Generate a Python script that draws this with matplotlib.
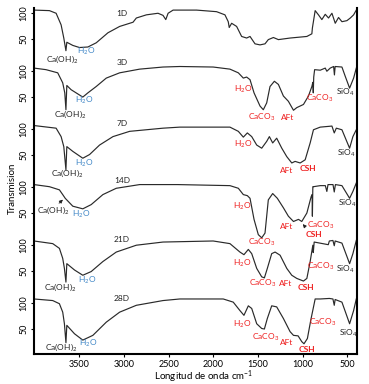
import matplotlib
matplotlib.use('Agg')
import matplotlib.pyplot as plt

plt.rcParams['font.family'] = ['Lato', 'DejaVu Sans']
plt.rcParams['mathtext.fontset'] = 'custom'
plt.rcParams['mathtext.rm'] = 'Lato'
plt.rcParams['mathtext.it'] = 'Lato'

# espectros FTIR (numero de onda cm-1, transmision)
wn_1d = [4010, 3837, 3762, 3706, 3676, 3652, 3642, 3575, 3500, 3406, 3312, 3181, 3050, 2900, 2863,
         2750, 2620, 2564, 2533, 2507, 2451, 2188, 1964, 1870, 1833, 1822, 1795, 1739, 1683, 1627,
         1589, 1533, 1477, 1421, 1384, 1327, 1271, 1140, 952, 896, 890, 859, 822, 784, 746, 709,
         671, 634, 597, 559, 503, 465, 428, 398]
tr_1d = [105, 104, 99, 77, 52, 28, 44, 38, 34, 35, 43, 62, 74, 82, 90,
         96, 99, 95, 87, 99, 105, 105, 102, 96, 83, 72, 80, 74, 55, 52,
         55, 41, 39, 41, 49, 53, 49, 52, 55, 60, 71, 104, 96, 87, 97, 90,
         99, 80, 91, 83, 85, 90, 96, 105]

wn_3d = [4010, 3875, 3744, 3688, 3665, 3652, 3642, 3594, 3463, 3406, 3313, 3200, 3050, 2826, 2564,
         2376, 2002, 1814, 1720, 1664, 1627, 1589, 1544, 1477, 1440, 1402, 1365, 1316, 1271, 1215,
         1159, 1102, 1065, 990, 934, 896, 885, 880, 875, 865, 802, 746, 728, 690, 652, 643, 635,
         559, 521, 473, 428, 398]
tr_3d = [105, 102, 96, 77, 58, 26, 72, 64, 50, 58, 70, 86, 96, 103, 107,
         108, 107, 103, 96, 86, 88, 83, 58, 33, 26, 39, 70, 80, 74, 52,
         42, 25, 30, 36, 52, 70, 78, 58, 88, 102, 101, 105, 99, 105, 108, 92, 108,
         107, 89, 67, 86, 105]

wn_7d = [4010, 3762, 3706, 3676, 3652, 3642, 3575, 3463, 3387, 3275, 3125, 2938, 2564, 2376, 1814,
         1720, 1664, 1619, 1570, 1514, 1458, 1402, 1372, 1335, 1290, 1233, 1177, 1121, 1084, 1027,
         971, 915, 878, 802, 671, 645, 622, 559, 473, 436, 398]
tr_7d = [106, 101, 85, 66, 22, 66, 57, 44, 51, 69, 85, 95, 101, 103, 103,
         95, 84, 92, 85, 69, 63, 76, 85, 73, 82, 63, 47, 35, 38, 35,
         41, 73, 98, 103, 105, 92, 101, 98, 63, 85, 98]

wn_14d = [4010, 3837, 3725, 3688, 3660, 3575, 3463, 3369, 3238, 3088, 2826, 2400, 1814, 1720, 1664,
          1619, 1589, 1544, 1496, 1458, 1421, 1384, 1335, 1283, 1215, 1159, 1102, 1046, 1009, 952,
          904, 893, 890, 885, 878, 802, 745, 728, 715, 659, 645, 632, 559, 473, 436, 398]
tr_14d = [104, 100, 94, 85, 78, 63, 58, 66, 85, 97, 104, 104, 102, 97, 85,
          83, 78, 38, 9, 3, 12, 75, 87, 78, 60, 44, 34, 38, 34, 50,
          81, 85, 44, 100, 100, 102, 102, 91, 104, 104, 90, 104, 102, 78, 91, 107]

wn_21d = [4010, 3800, 3725, 3688, 3669, 3652, 3642, 3556, 3463, 3369, 3238, 3088, 2863, 2564, 2002,
          1814, 1702, 1657, 1608, 1570, 1514, 1458, 1428, 1395, 1346, 1308, 1252, 1177, 1121, 1065,
          990, 952, 915, 885, 880, 870, 712, 700, 660, 645, 635, 559, 473, 436, 398]
tr_21d = [107, 102, 93, 74, 55, 29, 64, 52, 42, 49, 68, 86, 99, 105, 107,
          102, 86, 81, 91, 83, 55, 39, 37, 55, 83, 86, 80, 55, 42, 36,
          31, 36, 68, 99, 85, 105, 100, 107, 108, 98, 107, 103, 64, 83, 108]

wn_28d = [4010, 3800, 3725, 3688, 3669, 3652, 3642, 3556, 3463, 3350, 3200, 3050, 2863, 2564, 2376,
          1889, 1777, 1702, 1657, 1608, 1570, 1514, 1458, 1428, 1395, 1346, 1290, 1215, 1140, 1102,
          1050, 1009, 984, 946, 908, 859, 802, 700, 660, 645, 635, 559, 473, 428, 398]
tr_28d = [107, 104, 98, 82, 60, 24, 57, 41, 29, 38, 63, 82, 95, 104, 107,
          107, 101, 85, 76, 94, 89, 60, 51, 50, 70, 94, 92, 70, 45, 38,
          37, 26, 22, 32, 67, 107, 107, 108, 107, 95, 106, 101, 60, 85, 107]

dias = ['1D', '3D', '7D', '14D', '21D', '28D']
espectros = [(wn_1d, tr_1d), (wn_3d, tr_3d), (wn_7d, tr_7d),
             (wn_14d, tr_14d), (wn_21d, tr_21d), (wn_28d, tr_28d)]
offsets = [550, 440, 330, 220, 110, 0]
x_ticks = [3500, 3000, 2500, 2000, 1500, 1000, 500]

AZUL = '#3d85c6'
ROJO = '#ee1c1c'
NEGRO = '#222222'

# etiquetas: (texto, numero de onda, transmision relativa, color, negrita)
etiquetas = [
    [('Ca(OH)$_2$', 3696, 12, NEGRO, False), ('H$_2$O', 3427, 26, AZUL, False)],
    [('H$_2$O', 3450, 43, AZUL, False), ('Ca(OH)$_2$', 3607, 18, NEGRO, False),
     ('H$_2$O', 1668, 65, ROJO, False), ('CaCO$_3$', 1455, 12, ROJO, False),
     ('AFt', 1163, 12, ROJO, False), ('CaCO$_3$', 805, 47, ROJO, False),
     ('SiO$_4$', 525, 58, NEGRO, False)],
    [('H$_2$O', 3450, 35, AZUL, False), ('Ca(OH)$_2$', 3640, 16, NEGRO, False),
     ('H$_2$O', 1668, 71, ROJO, False), ('AFt', 1175, 20, ROJO, False),
     ('CSH', 939, 24, ROJO, True), ('SiO$_4$', 514, 54, NEGRO, False)],
    [('Ca(OH)$_2$', 3797, 56, NEGRO, False), ('H$_2$O', 3483, 48, AZUL, False),
     ('H$_2$O', 1679, 63, ROJO, False), ('CaCO$_3$', 1455, -5, ROJO, False),
     ('AFt', 1175, 24, ROJO, False), ('CaCO$_3$', 794, 27, ROJO, False),
     ('CSH', 872, 10, ROJO, True), ('SiO$_4$', 502, 69, NEGRO, False)],
    [('H$_2$O', 3415, 32, AZUL, False), ('Ca(OH)$_2$', 3712, 19, NEGRO, False),
     ('H$_2$O', 1679, 65, ROJO, False), ('CaCO$_3$', 1444, 27, ROJO, False),
     ('AFt', 1186, 27, ROJO, False), ('CSH', 962, 18, ROJO, True),
     ('CaCO$_3$', 794, 58, ROJO, False), ('SiO$_4$', 525, 54, NEGRO, False)],
    [('H$_2$O', 3400, 22, AZUL, False), ('Ca(OH)$_2$', 3706, 16, NEGRO, False),
     ('H$_2$O', 1679, 58, ROJO, False), ('CaCO$_3$', 1410, 35, ROJO, False),
     ('AFt', 1175, 24, ROJO, False), ('CSH', 951, 11, ROJO, True),
     ('CaCO$_3$', 771, 63, ROJO, False), ('SiO$_4$', 491, 42, NEGRO, False)],
]
pos_dias = [98, 115, 109, 112, 109, 107]

fig = plt.figure(figsize=(3.69, 3.84), dpi=100)
ax = fig.add_axes([0.0921, 0.0781, 0.8754, 0.9011])

for (wn, tr), off, dia, labs, yd in zip(espectros, offsets, dias, etiquetas, pos_dias):
    ax.plot(wn, [t + off for t in tr], color='#2a2a2a', lw=0.85)
    ax.text(3024, yd + off, dia, fontsize=6, ha='center', va='center', color=NEGRO)
    for txt, x, y, c, bold in labs:
        ax.text(x, y + off, txt, fontsize=6, ha='center', va='center', color=c,
                fontweight='bold' if bold else 'normal')

# flechas del panel 14D
ax.annotate('', xy=(3663, 79 + 220), xytext=(3752, 65 + 220),
            arrowprops=dict(arrowstyle='-|>', color=NEGRO, lw=0.6, mutation_scale=5))
ax.annotate('', xy=(1018, 33 + 220), xytext=(951, 20 + 220),
            arrowprops=dict(arrowstyle='-|>', color=NEGRO, lw=0.6, mutation_scale=5))

ax.set_xlim(4010, 390)
ax.set_ylim(2.6, 659)
ax.set_xticks(x_ticks)
ax.set_xticklabels([str(t) for t in x_ticks], fontsize=6.5)

yt = []
for off in offsets:
    yt += [off + 50, off + 100]
ax.set_yticks(yt)
ax.set_yticklabels(['50', '100'] * len(offsets), fontsize=6.5, rotation=90, va='center')
ax.tick_params(length=2.5, width=0.8, pad=1.5)

ax.spines['top'].set_visible(False)
for s in ['left', 'right', 'bottom']:
    ax.spines[s].set_linewidth(1.5)
    ax.spines[s].set_color('black')

fig.text(204 / 369, 1 - 377 / 384, 'Longitud de onda cm$^{-1}$', fontsize=7, ha='center', va='center')
fig.text(12 / 369, 1 - 188 / 384, 'Transmision', fontsize=7, rotation=90, ha='center', va='center')

fig.savefig('out.png', dpi=100)
